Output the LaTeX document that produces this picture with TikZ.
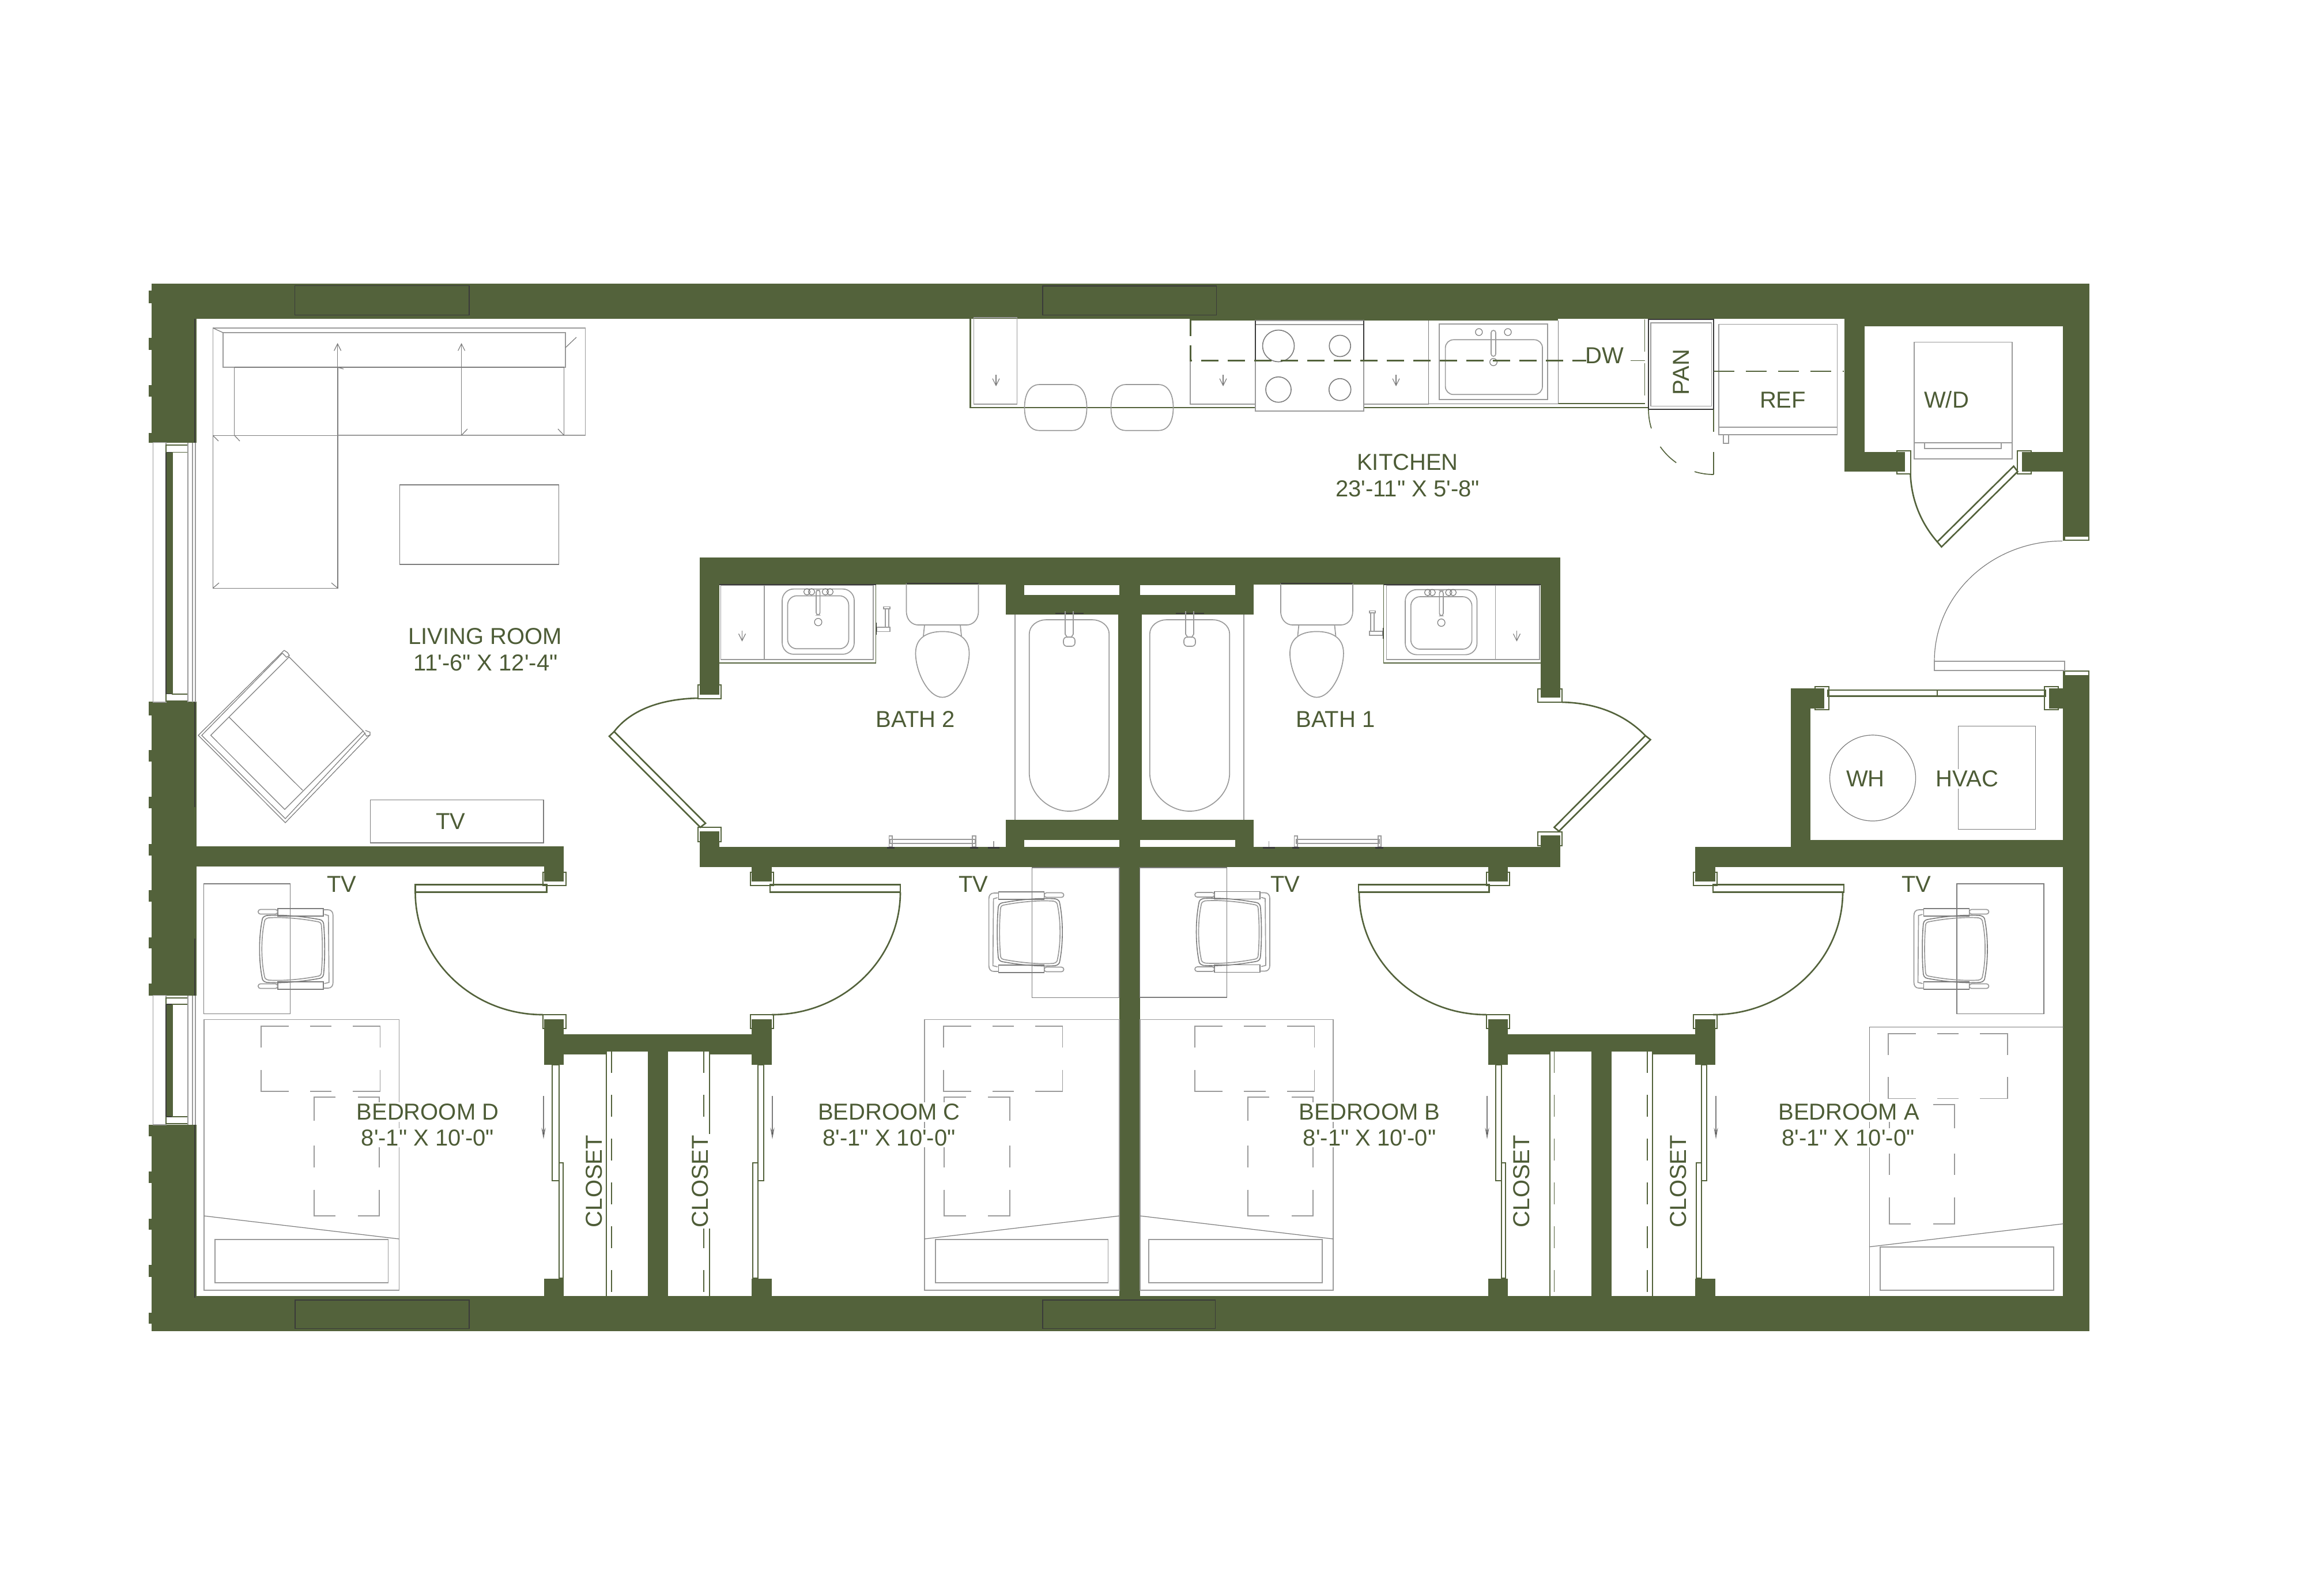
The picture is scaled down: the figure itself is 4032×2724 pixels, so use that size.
\documentclass[tikz,border=0pt]{standalone}
\usepackage{fontspec}
\newfontfamily\lblfont{Liberation Sans}
\usetikzlibrary{arrows.meta}
\definecolor{wallc}{HTML}{53623B}
\definecolor{labelc}{HTML}{4D5C36}
\definecolor{fixc}{HTML}{9A9A9A}
\definecolor{fixd}{HTML}{7C7C7C}
\definecolor{darkln}{HTML}{3A3A3A}
\tikzset{
  wall/.style={fill=wallc,draw=none},
  slot/.style={fill=white,draw=none},
  fix/.style={draw=fixc,line width=.42pt},
  fixdk/.style={draw=fixd,line width=.42pt},
  thin gray/.style={draw=fixd,line width=.3pt},
  gline/.style={draw=wallc,line width=.65pt},
  darkl/.style={draw=darkln,line width=.4pt},
  lbl/.style={text=labelc,font=\lblfont\fontsize{10}{11}\selectfont,inner sep=0.6pt},
  lblw/.style={lbl,fill=white},
  kdash/.style={draw=wallc,line width=.75pt,dash pattern=on 7.5pt off 4pt},
  rdash/.style={draw=wallc,line width=.55pt,dash pattern=on 9pt off 5pt},
  cdash/.style={draw=wallc,line width=.42pt,dash pattern=on 9.5pt off 9.5pt},
  smallarrow/.style={draw=fixd,line width=.3pt,-{Straight Barb[length=3pt,width=3pt]}},
  closetarrow/.style={draw=fixd,line width=.3pt,-{Stealth[length=5pt,width=1.8pt,fill=darkln]}},
  chairp/.pic={
    \draw[fixd] (-50,-58) .. controls (-20,-60) and (15,-56) .. (42,-51) .. controls (47,-50) and (49,-46) .. (49,-40) .. controls (51,-15) and (51,15) .. (49,40) .. controls (49,46) and (47,50) .. (42,51) .. controls (15,56) and (-20,60) .. (-50,58) .. controls (-55,57) and (-58,54) .. (-58,50) .. controls (-64,20) and (-64,-20) .. (-58,-50) .. controls (-58,-54) and (-55,-57) .. (-50,-58) -- cycle;
    \draw[fix] (-47,-54) .. controls (-20,-56) and (15,-52) .. (40,-47) .. controls (44,-46) and (45,-43) .. (45,-38) .. controls (47,-15) and (47,15) .. (45,38) .. controls (45,43) and (44,46) .. (40,47) .. controls (15,52) and (-20,56) .. (-47,54) .. controls (-52,53) and (-54,50) .. (-54,47) .. controls (-60,20) and (-60,-20) .. (-54,-47) .. controls (-54,-50) and (-52,-53) .. (-47,-54) -- cycle;
    \draw[fixd] (-31,-70) rectangle (48,-57) (-31,57) rectangle (48,70);
    \draw[fix,rounded corners=1pt] (-65,-68.5) rectangle (-31,-60.5) (-65,60.5) rectangle (-31,68.5);
    \draw[fix] (48,-68) -- (56,-68) .. controls (62,-68) and (65,-64) .. (65,-58) -- (65,58) .. controls (65,64) and (62,68) .. (56,68) -- (48,68);
    \draw[fix] (50,-60) -- (57,-58) -- (58,58) -- (50,60);
  }
}
% quarter ellipse: leaves S vertically, reaches E horizontally
\newcommand\qarc[5][gline]{%
  \pgfmathsetmacro\qcay{#3+.5523*(#5-#3)}%
  \pgfmathsetmacro\qcbx{#4+.5523*(#2-#4)}%
  \draw[#1] (#2,#3) .. controls (#2,\qcay) and (\qcbx,#5) .. (#4,#5);}
\newcommand\dashH[4]{%
  \pgfmathsetmacro\wA{#1+.23*(#3-#1)}\pgfmathsetmacro\wB{#1+.41*(#3-#1)}%
  \pgfmathsetmacro\wC{#1+.59*(#3-#1)}\pgfmathsetmacro\wD{#1+.77*(#3-#1)}%
  \pgfmathsetmacro\hA{#2+.33*(#4-#2)}\pgfmathsetmacro\hB{#2+.67*(#4-#2)}%
  \draw[fix] (#1,\hA)--(#1,#2)--(\wA,#2) (\wB,#2)--(\wC,#2) (\wD,#2)--(#3,#2)--(#3,\hA)
     (#3,\hB)--(#3,#4)--(\wD,#4) (\wC,#4)--(\wB,#4) (\wA,#4)--(#1,#4)--(#1,\hB);}
\newcommand\dashV[4]{%
  \pgfmathsetmacro\hA{#2+.2*(#4-#2)}\pgfmathsetmacro\hB{#2+.41*(#4-#2)}%
  \pgfmathsetmacro\hC{#2+.59*(#4-#2)}\pgfmathsetmacro\hD{#2+.78*(#4-#2)}%
  \pgfmathsetmacro\wA{#1+.33*(#3-#1)}\pgfmathsetmacro\wB{#1+.67*(#3-#1)}%
  \draw[fix] (\wA,#2)--(#1,#2)--(#1,\hA) (#1,\hB)--(#1,\hC) (#1,\hD)--(#1,#4)--(\wA,#4)
     (\wB,#4)--(#3,#4)--(#3,\hD) (#3,\hC)--(#3,\hB) (#3,\hA)--(#3,#2)--(\wB,#2);}
\newcommand\winbox[4]{%
  \draw[fix] (265.5,#1) rectangle (288,#2);
  \draw[wall,draw=darkln,line width=.3pt] (288,#3) rectangle (298.7,#4);
  \draw[gline,line width=.45pt] (298.7,#3) rectangle (326,#4);
  \draw[gline,line width=.45pt] (288,#3) -- (288,#1+4) -- (326,#1+4) -- (326,#3);
  \draw[gline,line width=.45pt] (288,#4) -- (288,#2-2) -- (326,#2-2) -- (326,#4);
  \draw[fix] (326,#1) -- (326,#2) (334,#1) -- (334,#2) (339,#1) -- (339,#2);
}
\newcommand\stoolshape[1]{\begin{scope}[shift={(#1,0)}]
  \draw[fix] (26,667) -- (82,667) .. controls (100,667) and (108,685) .. (108,707) .. controls (108,730) and (100,746.7) .. (82,746.7) -- (26,746.7) .. controls (8,746.7) and (0,730) .. (0,707) .. controls (0,685) and (8,667) .. (26,667) -- cycle;
\end{scope}}
\newcommand\toiletshape[1]{\begin{scope}[shift={(#1,0)}]
  \draw[fix] (-62.5,1012) -- (-62.5,1060) .. controls (-62.5,1076) and (-52,1084) .. (-42,1084) -- (42,1084) .. controls (52,1084) and (62.5,1076) .. (62.5,1060) -- (62.5,1012);
  \draw[darkl] (-62.5,1012) -- (62.5,1012);
  \draw[fix] (-31,1084) -- (-33,1103) (31,1084) -- (33,1103);
  \draw[fix] (0,1095.4) .. controls (-25,1095.4) and (-46.5,1105) .. (-46.5,1133) .. controls (-46.5,1165) and (-25,1209.5) .. (0,1209.5) .. controls (25,1209.5) and (46.5,1165) .. (46.5,1133) .. controls (46.5,1105) and (25,1095.4) .. (0,1095.4) -- cycle;
\end{scope}}
\newcommand\tubshape[1]{\begin{scope}[shift={(#1,0)}]
  \draw[fix] (-69.3,1100) .. controls (-69.3,1085) and (-55,1075) .. (-40,1075) -- (40,1075) .. controls (55,1075) and (69.3,1085) .. (69.3,1100) -- (69.3,1340) .. controls (69.3,1378) and (35,1407) .. (0,1407) .. controls (-35,1407) and (-69.3,1378) .. (-69.3,1340) -- cycle;
  \draw[darkl,line width=.6pt] (-24.5,1064) -- (24.5,1064);
  \draw[fix] (-7,1060) -- (-7,1100) -- (-3,1106) (7,1060) -- (7,1100) -- (3,1106);
  \draw[fix,rounded corners=1.5pt] (-10,1105) rectangle (10,1121);
\end{scope}}
\newcommand\kitarrow[1]{\draw[smallarrow] (#1,650) -- (#1,670);}
\begin{document}
\begin{tikzpicture}[x=0.25pt,y=-0.25pt]
\useasboundingbox (0,0) rectangle (4032,2724);
\fill[white] (0,0) rectangle (4032,2724);

%% ---------- outer walls
\fill[wall] (263,492) rectangle (3625,553);
\fill[wall] (2065,553) rectangle (2703,556);
\fill[wall] (3200,553) rectangle (3625,566);
\fill[wall] (263,492) rectangle (341,768);
\fill[wall] (263,1217) rectangle (341,1727);
\fill[wall] (263,1951) rectangle (341,2308.5);
\fill[wall] (263,2248) rectangle (3625,2308.5);
\fill[wall] (3579,492) rectangle (3625,938.4);
\fill[wall] (3579,1163) rectangle (3625,2308.5);
\fill[slot] (3583,931) rectangle (3623,936);
\fill[slot] (3583,1165) rectangle (3623,1171);
% brick notches on the left face
\foreach \ya/\yb in {504/525.6,586.4/606.7,667.6/688,750.7/767.6,1217/1241,1300.5/1320.7,1381.6/1402,1464/1484,1544/1564,1625.5/1645,1706/1726.6,1951/1970.6,2032.4/2052,2113.7/2133.4,2194/2215,2276.5/2296}
  \fill[wall] (258,\ya) rectangle (263,\yb);
\draw[darkl,line width=.3pt] (338,553) -- (338,768) (338,1217) -- (338,1400) (338,1628) -- (338,1727) (338,1951) -- (338,2251);

%% ---------- window headers in walls
\draw[thin gray,draw=darkln] (511.7,495.8) rectangle (814,546.5);
\draw[thin gray,draw=darkln] (1809,496) rectangle (2110.5,546.7);
\draw[thin gray,draw=darkln] (512,2255) rectangle (814,2304.5);
\draw[thin gray,draw=darkln] (1809,2255) rectangle (2108.8,2304.5);

%% ---------- windows
\winbox{767.6}{1218}{784.5}{1203.7}
\winbox{1726.6}{1951}{1742}{1937}

%% ---------- living / bedroom wall
\fill[wall] (341,1468) rectangle (978,1503);
\fill[wall] (944,1503) rectangle (978,1528.5);
\draw[gline,line width=.5pt] (941.5,1513) rectangle (982,1536);

%% ---------- bath block
\fill[wall] (1213.5,967) rectangle (2706.6,1014);
\fill[wall] (1213.5,1014) rectangle (1248,1205);
\fill[wall] (2673,1014) rectangle (2706.6,1210);
\fill[wall] (1213.5,1469) rectangle (2706.6,1504);
\fill[wall] (1213.5,1442) rectangle (1248,1469);
\fill[wall] (2673,1449) rectangle (2706.6,1469);
\fill[wall] (1745,1014) rectangle (2175,1065.6);
\fill[slot] (1777,1015) rectangle (1942,1031.5);
\fill[slot] (1977.5,1015) rectangle (2143,1031.5);
\fill[wall] (1745,1422) rectangle (2175,1469);
\fill[slot] (1777,1457) rectangle (1942,1469);
\fill[slot] (1977.5,1457) rectangle (2143,1469);
\fill[wall] (1939.5,1065) rectangle (1981,1422);
\fill[wall] (1942,1014) rectangle (1977.5,1504);
\fill[wall] (1942,1504) rectangle (1978,2248);
% bath door frames
\draw[gline,line width=.5pt] (1211,1188) rectangle (1251,1212);
\draw[gline,line width=.5pt] (1211,1435) rectangle (1251,1460);
\draw[gline,line width=.5pt] (2668,1195) rectangle (2710,1218);
\draw[gline,line width=.5pt] (2668,1442.5) rectangle (2710,1467);

%% ---------- bedroom door stubs
\fill[wall] (1304,1504) rectangle (1339,1528.5);
\draw[gline,line width=.5pt] (1302,1513) rectangle (1342,1536);
\fill[wall] (2581.6,1504) rectangle (2615.5,1528.5);
\draw[gline,line width=.5pt] (2578.5,1513) rectangle (2618.6,1536);
\fill[wall] (2941,1469) rectangle (3141,1504);
\fill[wall] (2941,1504) rectangle (2976,1528.5);
\draw[gline,line width=.5pt] (2938,1513) rectangle (2978.5,1536);
\fill[wall] (944,1767.5) rectangle (978,1847);
\draw[gline,line width=.5pt] (941.5,1760) rectangle (982,1784);
\fill[wall] (1304,1767.5) rectangle (1339,1847);
\draw[gline,line width=.5pt] (1302,1760) rectangle (1342,1784);
\fill[wall] (2581.6,1767.5) rectangle (2615.5,1847);
\draw[gline,line width=.5pt] (2578.5,1760) rectangle (2618.6,1784);
\fill[wall] (2941,1767.5) rectangle (2976,1847);
\draw[gline,line width=.5pt] (2938,1760) rectangle (2978.5,1784);

%% ---------- closet walls
\fill[wall] (944,1794) rectangle (1339,1824);
\fill[wall] (944,1824) rectangle (1052,1829);
\fill[wall] (1231,1824) rectangle (1339,1829);
\fill[wall] (1124,1794) rectangle (1159,2248);
\fill[wall] (944,2217.6) rectangle (978,2248);
\fill[wall] (1304,2217.6) rectangle (1339,2248);
\fill[wall] (2581.6,1794) rectangle (2976,1824);
\fill[wall] (2581.6,1824) rectangle (2689,1829);
\fill[wall] (2867,1824) rectangle (2976,1829);
\fill[wall] (2761,1794) rectangle (2796,2248);
\fill[wall] (2581.6,2217.6) rectangle (2615.5,2248);
\fill[wall] (2941,2217.6) rectangle (2976,2248);

%% ---------- W/D closet and HVAC room
\fill[wall] (3200,553) rectangle (3235,818);
\fill[wall] (3200,784) rectangle (3305,818);
\fill[wall] (3508,784) rectangle (3579,818);
\draw[gline,line width=.5pt] (3291,781.6) rectangle (3315,821.5);
\draw[gline,line width=.5pt] (3500,781.6) rectangle (3524,821.5);
\fill[wall] (3107,1194) rectangle (3141,1504);
\fill[wall] (3107,1457) rectangle (3579,1504);
\fill[wall] (3141,1194) rectangle (3165,1229);
\fill[wall] (3555,1194) rectangle (3579,1229);
\draw[gline,line width=.5pt] (3149,1191) rectangle (3173,1230.5);
\draw[gline,line width=.5pt] (3547,1191) rectangle (3571,1230.5);
\draw[gline,line width=.55pt] (3171,1197) rectangle (3549,1207.5) (3361,1197) -- (3361,1207.5);

%% ---------- doors
\draw[gline] (720.5,1534.6) rectangle (948.5,1547.5);
\qarc{720.5}{1547.5}{941.5}{1760}
\draw[gline] (1336,1534.6) rectangle (1562,1547.5);
\qarc{1562}{1547.5}{1339}{1760}
\draw[gline] (2357,1534.6) rectangle (2583.5,1547.5);
\qarc{2358}{1547.5}{2578.5}{1760}
\draw[gline] (2972,1534.6) rectangle (3199,1547.5);
\qarc{3197}{1547.5}{2972}{1760}
\draw[gline] (1065.5,1269) -- (1057,1277) -- (1215,1435) -- (1224,1428) -- cycle;
\draw[gline] (1065.5,1269) .. controls (1095,1230) and (1150,1212) .. (1211,1211);
\draw[gline] (2854.6,1276) -- (2863.5,1283) -- (2704.7,1441.8) -- (2696.4,1435) -- cycle;
\draw[gline] (2854.6,1276) .. controls (2820,1240) and (2770,1219) .. (2710,1218);
\draw[gline] (3493.5,808.6) -- (3500.5,818) -- (3368.4,948.6) -- (3361,939.8) -- cycle;
\draw[gline] (3361,939.8) .. controls (3335,910) and (3316,870) .. (3314.4,821.5);
% entry door
\draw[fix] (3356,1146.7) rectangle (3582,1163);
\qarc[fixdk,line width=.3pt]{3356}{1146.7}{3578}{938.4}

%% ---------- closet bi-fold doors
\draw[gline,line width=.5pt] (958,1847) rectangle (970,2047.5) (970,2017) rectangle (977,2217);
\draw[gline,line width=.5pt] (1315,1847) rectangle (1325,2047.5) (1306,2017) rectangle (1315,2217);
\draw[gline,line width=.5pt] (2595,1847) rectangle (2604.6,2047.5) (2604.6,2017) rectangle (2612,2217);
\draw[gline,line width=.5pt] (2952,1847) rectangle (2961,2047.5) (2942.6,2017) rectangle (2951.5,2217);
% closet rods
\draw[gline,line width=.42pt] (1052,1823) -- (1052,2248);
\draw[cdash] (1061,1823) -- (1061,2248);
\draw[gline,line width=.42pt] (1231,1823) -- (1231,2248);
\draw[cdash] (1221,1823) -- (1221,2248);
\draw[gline,line width=.42pt] (2689,1823) -- (2689,2248);
\draw[cdash] (2696.5,1823) -- (2696.5,2248);
\draw[gline,line width=.42pt] (2867,1823) -- (2867,2248);
\draw[cdash] (2858,1823) -- (2858,2248);
\foreach \xa in {943,1340,2580,2977}
  \draw[closetarrow] (\xa,1900.5) -- (\xa,1976);

%% ---------- living room furniture
\draw[fix] (369.5,569) rectangle (1015.5,755.5);
\draw[fix] (387,577) rectangle (981,637);
\draw[fixdk] (369.5,755.5) rectangle (585.7,1020.5);
\draw[fixdk] (406.5,637) -- (406.5,755.5) -- (369.5,755.5);
\draw[fixdk] (406.5,637) -- (978.5,637);
\draw[fixdk] (585.7,637) -- (585.7,755.5);
\draw[fixdk] (800.6,637) -- (800.6,755);
\draw[fixdk] (978.5,637) -- (978.5,755);
\draw[fix] (585.7,754.5) -- (1015.5,754.5);
\draw[smallarrow] (585.7,637) -- (585.7,595);
\draw[smallarrow] (800.6,637) -- (800.6,595);
\draw[thin gray] (981,603) -- (1000,585) (800.6,755) -- (811,744) (968,744) -- (978.5,755) (406.5,755) -- (416,765) (369.5,1020) -- (380,1011) (575,1011) -- (585.7,1020) (369.5,569) -- (387,577) (369.5,755.5) -- (379,765) (585.7,637) -- (596,640);
\draw[fixdk] (693.5,840.7) rectangle (969.6,979.3);
% armchair
\draw[thin gray] (493,1128) -- (344,1275.4) -- (495,1427) -- (642,1274.7);
\draw[thin gray] (490,1133) -- (350,1275.4) -- (495,1420) -- (634,1271);
\draw[thin gray] (501.5,1139.5) -- (365.6,1275.4) -- (494,1404) -- (630,1268) -- cycle;
\draw[thin gray] (397.5,1244) -- (525,1370.8);
\draw[thin gray] (493,1128) -- (499,1132) -- (502,1137) -- (497,1140) -- (490,1133);
\draw[thin gray] (634,1267) -- (642,1270) -- (642,1275) -- (636,1277) -- (630,1268);
% TV
\draw[fixdk] (642.4,1387.6) rectangle (942.8,1462);

%% ---------- kitchen
\draw[gline,line width=.55pt] (2178,706.7) -- (1683.4,706.7) -- (1683.4,553);
\draw[gline,line width=.55pt] (2366,706.7) -- (2860,706.7);
\draw[fix] (1689.5,550.7) rectangle (1764.5,700.7);
\kitarrow{1728}
\stoolshape{1777.5}
\stoolshape{1927.5}
\draw[fix] (2065,625) -- (2065,700.7) -- (2178,700.7);
\kitarrow{2122}
\draw[fix,fill=white] (2178,556) rectangle (2366,713);
\draw[fix] (2178,563) -- (2366,563);
\draw[darkl,line width=.3pt] (2178,556) -- (2178,625) (2366,556) -- (2366,625);
\draw[fixd] (2218,600) circle[radius=27.5];
\draw[fixd] (2324.7,600) circle[radius=18.5];
\draw[fixd] (2218,675.7) circle[radius=22];
\draw[fixd] (2324.7,675.7) circle[radius=19];
\draw[fix] (2366,700.7) -- (2478.5,700.7);
\kitarrow{2422}
\draw[thin gray] (2478.5,556) -- (2478.5,700.7) -- (2703.6,700.7) -- (2703.6,556);
\draw[fix] (2497,561.7) rectangle (2685,693);
\draw[fix,rounded corners=3.5pt] (2507.6,589.3) rectangle (2676,684.3);
\draw[fix,rounded corners=1pt] (2587,573) rectangle (2595,618);
\draw[fixd,line width=.3pt] (2591,628) circle[radius=6.3] (2565.8,576) circle[radius=6] (2616,576) circle[radius=6];
% upper cabinets dashes
\draw[kdash] (2065,553) -- (2065,625.7) -- (2752,625.7);
\draw[gline,line width=.42pt,dash pattern=on 14pt off 5pt] (2853.5,554) -- (2853.5,700);
\draw[gline,line width=.42pt] (2853.5,700) -- (2703.6,700);
\draw[gline,line width=.42pt] (2829,625.4) -- (2853.5,625.4);
% pantry
\draw[darkl] (2860,554) rectangle (2973,710);
\draw[fix,fill=white] (2864,560) rectangle (2969.5,704.5);
\draw[gline,line width=.42pt] (2860,710) arc[start angle=180,end angle=163,radius=113];
\draw[gline,line width=.42pt] (2973,710) ++(145:113) arc[start angle=145,end angle=125,radius=113];
\draw[gline,line width=.42pt] (2973,710) ++(107:113) arc[start angle=107,end angle=90,radius=113];
\draw[gline,line width=.42pt] (2973,710) -- (2973,749) (2973,784) -- (2973,823);
% refrigerator
\draw[fix] (2982,562.5) rectangle (3187.6,754);
\draw[fix] (2982,741) -- (3187.6,741);
\draw[fix] (2990,754) rectangle (2999,769);
\draw[rdash] (2973,643.6) -- (3199,643.6);
\draw[darkl] (2973,554) -- (2973,643.6);
% washer / dryer
\draw[fix] (3321,593.6) rectangle (3491,795.8);
\draw[fix] (3321,768) -- (3491,768) (3339,768) -- (3339,778) -- (3472,778) -- (3472,768);
% water heater, hvac
\draw[fixd,line width=.3pt] (3249,1349.5) circle[radius=74.5];
\draw[fixd,line width=.3pt] (3397.7,1259.6) rectangle (3531.4,1438.8);

%% ---------- bath 2 fixtures
\draw[gline,line width=.42pt] (1519.6,1014) -- (1519.6,1150) -- (1248,1150);
\draw[fix] (1250.5,1015) rectangle (1515,1144);
\draw[darkl] (1248,1014) -- (1519.6,1014);
\draw[fix] (1325.7,1015) -- (1325.7,1144);
\draw[smallarrow] (1287.5,1093.5) -- (1287.5,1112.6);
\draw[fix,rounded corners=5pt] (1357,1021.6) rectangle (1482,1134.8);
\draw[fix,rounded corners=4pt] (1366.5,1033.4) rectangle (1472.4,1125.3);
\draw[fix,rounded corners=1pt] (1416,1023.5) rectangle (1422.6,1066.7);
\draw[fixd,line width=.3pt] (1419.5,1079) circle[radius=6.4] (1400,1026.5) circle[radius=5.5] (1408,1026.5) circle[radius=5.5] (1432,1026.5) circle[radius=5.5] (1440,1026.5) circle[radius=5.5];
\draw[fix] (1533,1052.6) rectangle (1544,1056) (1536,1056) -- (1536,1088) (1542,1056) -- (1542,1088) (1521,1088) rectangle (1544,1095.4);
\draw[darkl] (1520.5,1080) -- (1520.5,1101);
\toiletshape{1635}
\draw[fix] (1760.7,1065.6) -- (1760.7,1422);
\tubshape{1855}
\draw[fix] (1544,1456) rectangle (1692,1463);
\draw[fix] (1542.5,1450) rectangle (1548,1469) (1687,1450) rectangle (1693,1469);
\draw[darkl,line width=.7pt] (1539,1470.5) -- (1552,1470.5) (1683,1470.5) -- (1697,1470.5) (1714,1470.5) -- (1734,1470.5);
\draw[fix] (1723.7,1459) -- (1723.7,1469);

%% ---------- bath 1 fixtures
\draw[gline,line width=.42pt] (2400.5,1014) -- (2400.5,1150) -- (2673,1150);
\draw[fix] (2405.6,1015) rectangle (2671,1144);
\draw[darkl] (2400.5,1014) -- (2673,1014);
\draw[fix] (2594.4,1015) -- (2594.4,1144);
\draw[smallarrow] (2631.4,1093.5) -- (2631.4,1112.6);
\draw[fix,rounded corners=5pt] (2438,1022.7) rectangle (2562.5,1135.6);
\draw[fix,rounded corners=4pt] (2447.7,1035) rectangle (2553.6,1126);
\draw[fix,rounded corners=1pt] (2497.3,1025) rectangle (2503.9,1068);
\draw[fixd,line width=.3pt] (2500.6,1080) circle[radius=6.4] (2484.7,1027.7) circle[radius=5.5] (2477,1027.7) circle[radius=5.5] (2513.4,1027.7) circle[radius=5.5] (2521,1027.7) circle[radius=5.5];
\draw[fix] (2376,1059.5) rectangle (2386,1063) (2378,1063) -- (2378,1095) (2384,1063) -- (2384,1095) (2376,1094.7) rectangle (2399,1102.3);
\draw[darkl] (2399.5,1089) -- (2399.5,1108);
\toiletshape{2284.4}
\draw[fix] (2158,1065.6) -- (2158,1422);
\tubshape{2064}
\draw[fix] (2249,1456) rectangle (2393,1463);
\draw[fix] (2245.5,1450) rectangle (2251,1469) (2391,1450) rectangle (2396,1469);
\draw[darkl,line width=.7pt] (2242,1470.5) -- (2254,1470.5) (2386,1470.5) -- (2400,1470.5) (2191,1470.5) -- (2212,1470.5);
\draw[fix] (2201.5,1459) -- (2201.5,1469);

%% ---------- bedroom D furniture
\draw[fixdk,line width=.3pt] (353.6,1533) rectangle (503.8,1758.5);
\pic at (512.8,1646) {chairp};
\draw[fix] (354,1768.6) rectangle (692.5,2237.8);
\draw[fixdk,line width=.3pt] (354,2109) -- (692.5,2149);
\draw[fix] (373,2149.7) rectangle (673.5,2225);
\dashH{453}{1780}{659.5}{1892.7}
\dashV{545}{1902.8}{658}{2109}

%% ---------- bedroom C furniture
\draw[fixdk,line width=.3pt] (1790.6,1505) rectangle (1942,1730.5);
\pic[xscale=-1] at (1780.6,1617) {chairp};
\draw[fix] (1603.7,1768.6) rectangle (1942,2237.8);
\draw[fixdk,line width=.3pt] (1603.7,2149) -- (1942,2109);
\draw[fix] (1623,2149.7) rectangle (1922.6,2225);
\dashH{1637}{1780}{1843.5}{1892.7}
\dashV{1638}{1902.8}{1751.7}{2109}

%% ---------- bedroom B furniture
\draw[fixdk,line width=.3pt] (1977.4,1505) rectangle (2128.6,1730);
\pic at (2138,1616.5) {chairp};
\draw[fix] (1978,1768.6) rectangle (2313,2237.8);
\draw[fixdk,line width=.3pt] (1978,2109) -- (2313,2149);
\draw[fix] (1992.7,2149.7) rectangle (2294,2225);
\dashH{2073}{1780}{2280.6}{1892.7}
\dashV{2165}{1902.8}{2278}{2109}

%% ---------- bedroom A furniture
\draw[fixdk,line width=.3pt] (3395,1533) rectangle (3546,1758.5);
\pic[xscale=-1] at (3385.5,1646) {chairp};
\draw[fixdk,line width=.3pt] (3579.6,1781.5) -- (3243.7,1781.5) -- (3243.7,2248);
\draw[fixdk,line width=.3pt] (3243.7,2162.6) -- (3579.6,2122.7);
\draw[fix] (3262,2163) rectangle (3563,2238);
\dashH{3276}{1792.8}{3483}{1905.6}
\dashV{3278}{1916}{3391}{2122.7}

%% ---------- labels
\node[lbl] (lLiving) at (841.4,1103.7) {LIVING ROOM};
\node[lbl] (lLivingD) at (842.7,1149.7) {11'-6" X 12'-4"};
\node[lbl] (lTVliv) at (782,1425) {TV};
\node[lbl] (lKitchen) at (2442,801.7) {KITCHEN};
\node[lbl] (lKitchenD) at (2442,848) {23'-11" X 5'-8"};
\node[lbl] (lDW) at (2784,617) {DW};
\node[lbl,rotate=90] (lPAN) at (2916.6,645.6) {PAN};
\node[lbl] (lREF) at (3093,693.7) {REF};
\node[lblw] (lWD) at (3377,693.6) {W/D};
\node[lbl] (lWH) at (3236.4,1351) {WH};
\node[lblw] (lHVAC) at (3413,1351) {HVAC};
\node[lbl] (lBath2) at (1588.5,1247.7) {BATH 2};
\node[lbl] (lBath1) at (2317,1247.7) {BATH 1};
\node[lbl] (lTVd) at (593,1533.5) {TV};
\node[lbl] (lTVc) at (1689,1533.5) {TV};
\node[lbl] (lTVb) at (2229.6,1533.5) {TV};
\node[lbl] (lTVa) at (3325,1533.5) {TV};
\node[lblw] (lBedD) at (742,1929) {BEDROOM D};
\node[lblw] (lBedDd) at (742,1973.5) {8'-1" X 10'-0"};
\node[lblw] (lBedC) at (1542.5,1929) {BEDROOM C};
\node[lblw] (lBedCd) at (1542.5,1973.5) {8'-1" X 10'-0"};
\node[lblw] (lBedB) at (2376,1929) {BEDROOM B};
\node[lblw] (lBedBd) at (2376,1973.5) {8'-1" X 10'-0"};
\node[lblw] (lBedA) at (3207.6,1929) {BEDROOM A};
\node[lblw] (lBedAd) at (3206.4,1973.5) {8'-1" X 10'-0"};
\node[lblw,rotate=90] (lClo1) at (1031,2049) {CLOSET};
\node[lblw,rotate=90] (lClo2) at (1215,2049) {CLOSET};
\node[lblw,rotate=90] (lClo3) at (2639.6,2049) {CLOSET};
\node[lblw,rotate=90] (lClo4) at (2912,2049) {CLOSET};
\end{tikzpicture}
\end{document}
